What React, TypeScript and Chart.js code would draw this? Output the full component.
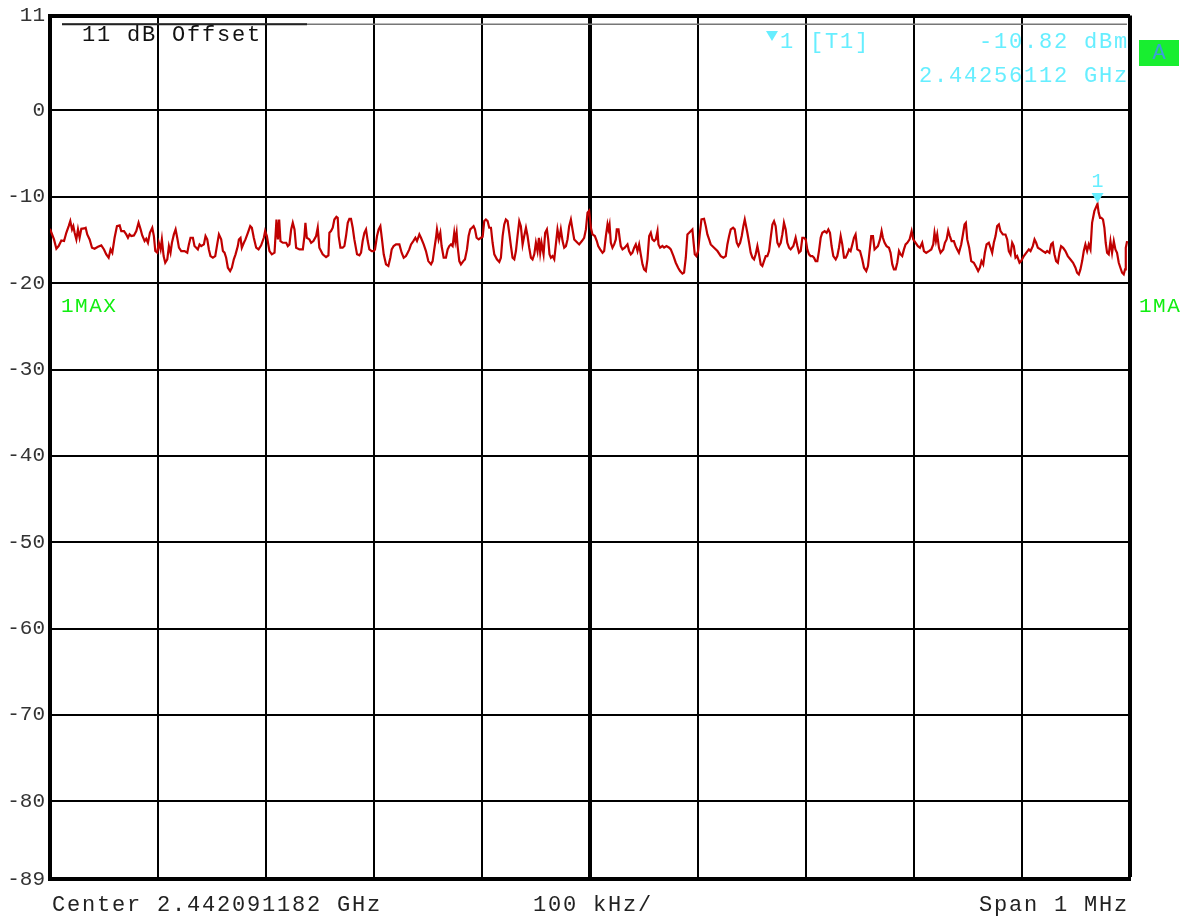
import React, { useEffect, useRef } from "react";
import { Chart, registerables } from "chart.js";

Chart.register(...registerables);

// Analyzer settings (frequency axis is kHz offset from the start of the span)
const centerLabel = "Center 2.442091182 GHz";
const divisionLabel = "100 kHz/";
const spanLabel = "Span 1 MHz";
const offsetLabel = "11 dB Offset";
const spanKHz = 1000;
const divisionKHz = 100;

// Level axis
const levelMax = 11;
const levelMin = -89;
const levelTicks = [11, 0, -10, -20, -30, -40, -50, -60, -70, -80, -89];
const displayLineDbm = 10;

// Marker 1
const markerFreqKHz = 969.938;
const markerLevelDbm = -10.82;
const markerLevelText = "-10.82 dBm";
const markerFreqText = "2.44256112 GHz";

// Trace 1 (max hold), [kHz offset, dBm]
const traceQ1: [number, number][] = [
  [0, -13.7], [3.7, -14.93], [5.9, -16.01], [8.0, -15.7], [10.5, -15.05], [13.0, -15.12], [15.1, -14.16], [17.3, -13.39],
  [18.8, -12.81], [20.4, -13.77], [21.6, -13.39], [22.8, -14.16], [24.4, -14.93], [25.9, -13.77], [27.4, -14.74], [29.0, -13.7],
  [31.5, -13.66], [33.0, -13.58], [34.5, -14.35], [36.7, -14.93], [38.9, -15.89], [41.3, -16.01], [44.4, -15.78], [47.5, -15.62],
  [50.0, -16.09], [52.1, -16.66], [54.3, -17.05], [56.1, -16.09], [57.7, -16.47], [59.8, -14.74], [62.0, -13.39], [64.5, -13.31],
  [66.0, -13.97], [68.5, -13.97], [70.6, -14.35], [72.2, -14.74], [73.7, -14.35], [75.3, -14.54], [77.7, -14.47], [79.9, -13.97],
  [82.0, -13.0], [83.9, -13.77], [85.4, -14.47], [87.6, -15.12], [89.1, -14.85], [90.7, -15.32], [92.5, -14.16], [94.7, -13.58],
  [96.2, -14.54], [97.5, -16.28], [99.3, -16.47], [100.8, -15.32], [102.4, -16.09], [103.6, -14.93], [105.2, -16.86], [106.7, -17.63],
  [108.6, -17.24], [110.1, -15.7], [111.6, -16.47], [112.9, -15.32], [114.7, -14.35], [116.3, -13.77], [117.8, -14.74], [119.4, -15.89],
  [121.5, -16.28], [124.6, -16.28], [127.1, -16.47], [128.6, -15.51], [130.1, -14.74], [132.3, -14.74], [133.8, -15.7], [135.4, -15.89],
  [136.9, -16.09], [138.5, -15.51], [140.0, -15.7], [142.5, -15.51], [144.0, -14.54], [145.6, -14.93], [147.1, -16.09], [148.6, -16.86],
  [150.8, -17.05], [153.0, -16.86], [154.8, -15.51], [156.4, -14.35], [158.5, -14.93], [160.1, -16.28], [161.6, -16.47], [163.1, -17.05],
  [164.7, -18.21], [166.8, -18.59], [168.4, -18.21], [170.2, -17.24], [171.8, -16.66], [173.9, -15.7], [174.9, -14.93], [176.4, -14.74],
  [177.6, -15.89], [179.5, -15.32], [181.0, -14.93], [183.2, -14.16], [185.4, -13.39], [186.9, -13.58], [188.7, -14.74], [190.9, -15.89],
  [193.1, -16.09], [195.5, -15.62], [198.0, -14.74], [199.2, -13.97], [200.8, -14.54], [203.2, -16.28], [205.4, -16.66], [207.9, -16.47],
  [209.7, -12.62], [211.0, -14.93], [212.2, -12.62], [213.4, -15.12], [215.6, -15.32], [218.7, -15.32], [220.2, -15.7], [221.7, -15.51],
  [223.3, -13.77], [224.8, -13.0], [226.4, -13.77], [227.9, -15.89], [231.0, -16.09], [234.1, -16.09], [235.6, -14.54], [236.5, -13.0],
  [237.8, -14.74], [240.2, -14.93], [241.8, -15.32], [243.9, -15.12], [246.4, -14.54],
];

const traceQ2: [number, number][] = [
  [247.9, -13.58], [249.4, -15.89], [252.5, -16.66], [255.6, -16.97], [257.8, -16.78], [258.7, -14.16], [260.2, -13.97], [261.8, -13.58],
  [263.3, -12.62], [265.2, -12.31], [266.4, -12.42], [267.3, -14.54], [268.9, -15.89], [271.0, -15.89], [272.6, -15.7], [274.1, -14.54],
  [275.7, -13.0], [277.2, -12.54], [278.7, -12.54], [280.3, -13.58], [281.8, -14.93], [284.3, -16.66], [286.5, -16.78], [288.0, -16.47],
  [289.5, -15.12], [291.1, -14.16], [292.6, -13.77], [294.2, -15.12], [295.7, -16.09], [297.9, -16.28], [299.7, -16.28], [300.9, -16.09],
  [302.8, -14.54], [304.3, -13.77], [305.9, -13.39], [307.4, -14.93], [309.0, -16.66], [311.1, -17.82], [313.3, -18.01], [315.1, -17.05],
  [316.4, -16.09], [318.2, -15.7], [320.4, -15.51], [323.5, -15.51], [325.6, -16.47], [327.5, -17.05], [329.6, -16.86], [331.2, -16.47],
  [332.7, -16.09], [334.3, -15.51], [336.4, -15.12], [338.3, -14.74], [339.8, -15.12], [342.0, -14.35], [343.5, -14.74], [346.0, -15.51],
  [348.1, -16.28], [350.3, -17.44], [352.8, -17.82], [354.3, -17.44], [355.8, -16.09], [357.4, -14.74], [358.3, -13.77], [359.8, -14.93],
  [361.4, -14.16], [362.6, -15.7], [364.5, -17.05], [366.6, -17.05], [368.2, -16.09], [369.7, -15.7], [371.3, -15.51], [372.8, -15.7],
  [374.3, -14.16], [375.3, -15.12], [376.5, -14.16], [377.4, -15.7], [379.0, -17.44], [380.5, -17.82], [382.7, -17.44], [384.2, -17.24],
  [386.1, -16.09], [387.6, -14.54], [389.1, -13.77], [390.7, -13.58], [392.2, -13.39], [393.5, -13.77], [395.0, -14.74], [396.9, -14.93],
  [399.0, -14.74], [400.6, -14.62], [402.1, -12.81], [403.6, -12.62], [405.2, -12.81], [406.7, -13.58], [408.3, -13.58], [409.8, -15.32],
  [411.4, -16.66], [413.8, -17.24], [416.0, -17.55], [417.5, -17.05], [419.1, -14.54], [420.6, -13.2], [422.1, -12.62], [423.7, -12.81],
  [425.2, -14.16], [426.8, -15.7], [428.3, -17.05], [429.9, -17.24], [431.4, -16.28], [432.9, -14.54], [434.5, -12.81], [436.0, -13.39],
  [437.6, -15.51], [439.1, -14.54], [440.7, -13.58], [442.2, -14.54], [443.7, -15.89], [445.3, -17.05], [446.8, -17.24], [448.4, -16.66],
  [449.9, -15.32], [451.4, -16.28], [452.7, -14.74], [453.9, -16.47], [455.1, -15.32], [457.0, -16.66], [458.5, -14.16], [460.1, -13.77],
  [461.3, -14.93], [462.5, -16.66], [463.8, -17.05], [465.3, -16.86], [466.9, -17.24], [468.4, -15.51], [469.9, -13.77], [471.5, -14.93],
  [473.0, -13.77], [474.6, -15.12], [476.1, -15.89], [477.7, -15.7], [479.2, -14.93], [480.7, -13.39], [482.3, -12.62], [483.8, -13.77],
  [485.4, -14.93], [488.4, -15.32], [490.0, -15.51], [492.5, -15.12], [494.6, -14.74], [496.2, -13.77],
];

const traceQ3: [number, number][] = [
  [497.7, -11.85], [499.2, -11.62], [500.8, -13.58], [502.3, -14.35], [504.5, -14.54], [506.3, -15.12], [507.6, -15.7], [509.4, -16.09],
  [511.6, -16.47], [513.1, -16.28], [514.7, -14.54], [516.2, -13.2], [517.1, -13.77], [518.1, -13.2], [519.3, -15.32], [520.8, -15.89],
  [522.4, -15.51], [523.9, -14.93], [524.8, -13.77], [526.4, -13.77], [527.6, -14.93], [528.5, -15.7], [530.1, -16.09], [532.2, -15.89],
  [534.7, -15.51], [536.2, -16.28], [537.8, -16.66], [539.3, -16.47], [540.9, -15.89], [542.4, -15.51], [544.0, -16.28], [545.5, -15.51],
  [547.0, -16.66], [548.6, -17.82], [550.1, -18.4], [551.7, -18.59], [553.2, -17.24], [554.8, -14.54], [556.3, -14.16], [557.8, -14.93],
  [559.4, -15.12], [560.9, -14.93], [562.5, -13.97], [563.4, -15.51], [564.9, -15.89], [567.1, -15.7], [568.6, -15.89], [570.8, -15.7],
  [573.3, -15.89], [574.8, -16.09], [577.3, -16.86], [579.4, -17.63], [581.6, -18.21], [583.4, -18.59], [585.6, -18.9], [587.1, -18.78],
  [588.7, -17.05], [590.2, -14.35], [591.8, -14.16], [594.8, -13.77], [595.8, -15.12], [597.0, -16.66], [598.5, -16.86], [600.1, -16.28],
  [601.6, -14.35], [603.2, -12.62], [605.6, -12.54], [607.2, -13.39], [608.7, -14.35], [610.3, -14.93], [611.8, -15.51], [614.9, -15.89],
  [618.0, -16.28], [621.1, -16.86], [623.5, -17.05], [625.7, -16.86], [627.2, -15.51], [628.8, -14.54], [630.3, -13.77], [632.5, -13.58],
  [634.0, -13.77], [635.9, -15.32], [637.4, -15.7], [639.0, -15.32], [640.5, -14.54], [642.0, -13.39], [643.3, -12.62], [644.5, -13.39],
  [645.7, -14.16], [647.3, -15.32], [648.8, -16.47], [650.4, -17.05], [651.9, -17.24], [653.4, -16.66], [655.0, -15.7], [656.5, -16.66],
  [658.1, -17.82], [659.6, -18.01], [661.1, -17.44], [662.7, -16.86], [664.2, -16.86], [665.8, -16.28], [667.3, -14.74], [668.9, -13.2],
  [670.4, -12.81], [671.9, -13.39], [673.5, -15.32], [675.0, -15.7], [676.6, -15.32], [678.1, -14.35], [679.6, -13.0], [681.2, -13.77],
  [682.7, -15.32], [684.3, -15.89], [685.8, -16.09], [688.3, -15.7], [690.4, -14.74], [692.0, -15.7], [693.5, -16.47], [695.1, -16.28],
  [696.6, -14.74], [698.1, -14.74], [699.7, -14.93], [701.2, -16.09], [702.8, -16.66], [704.3, -16.86], [705.9, -16.86], [707.4, -17.05],
  [708.9, -17.44], [710.5, -17.44], [712.0, -16.28], [713.6, -14.74], [715.1, -14.16], [717.3, -13.97], [719.1, -14.16], [720.7, -13.77],
  [722.2, -14.16], [723.7, -15.7], [725.3, -16.86], [727.5, -17.24], [729.0, -16.86], [730.5, -15.89], [732.1, -14.54], [733.6, -15.51],
  [735.2, -17.05], [736.7, -17.05], [738.2, -16.66], [739.8, -16.09], [741.3, -16.28], [742.9, -15.51], [744.4, -14.74], [745.9, -14.35],
];

const traceQ4: [number, number][] = [
  [747.5, -16.09], [750.0, -16.28], [752.1, -17.25], [753.7, -18.21], [755.8, -18.6], [757.4, -18.02], [759.2, -15.9], [760.4, -14.55],
  [762.0, -14.55], [763.5, -16.09], [765.1, -15.9], [766.6, -15.71], [768.5, -14.93], [770.0, -13.97], [771.2, -14.74], [772.8, -15.32],
  [774.6, -15.71], [776.8, -15.9], [778.3, -16.48], [779.9, -17.83], [781.4, -18.4], [783.0, -18.4], [784.5, -17.63], [786.1, -16.28],
  [787.6, -16.67], [789.1, -16.86], [790.7, -16.09], [792.2, -15.51], [793.8, -15.32], [795.9, -14.93], [797.8, -13.97], [799.3, -14.93],
  [801.5, -15.32], [803.6, -15.71], [805.5, -15.9], [807.6, -15.32], [809.2, -16.28], [811.3, -16.48], [813.8, -16.28], [816.0, -16.09],
  [817.8, -15.51], [819.0, -14.16], [820.3, -15.13], [821.5, -14.36], [823.1, -15.9], [824.6, -16.48], [827.1, -16.09], [828.6, -15.32],
  [830.2, -14.93], [831.7, -13.89], [833.2, -14.55], [834.8, -15.13], [836.9, -15.13], [838.5, -15.71], [840.0, -16.09], [841.6, -16.48],
  [843.7, -15.51], [845.3, -14.36], [846.8, -13.2], [848.0, -13.01], [849.3, -14.93], [851.1, -15.9], [853.0, -17.44], [855.4, -17.63],
  [857.9, -18.21], [859.4, -18.6], [861.0, -18.21], [862.5, -17.44], [864.1, -17.83], [865.6, -16.48], [867.2, -15.51], [869.3, -15.32],
  [870.9, -15.9], [872.4, -16.48], [873.9, -15.32], [875.5, -14.55], [877.0, -13.39], [878.6, -13.2], [880.1, -13.97], [882.3, -14.36],
  [884.7, -14.36], [886.3, -14.93], [887.8, -16.28], [889.4, -16.67], [890.9, -15.32], [892.4, -15.71], [894.0, -17.05], [895.5, -16.86],
  [897.7, -17.63], [899.2, -17.44], [901.7, -16.86], [903.9, -16.48], [906.3, -16.09], [907.9, -16.28], [910.0, -15.71], [911.6, -14.93],
  [913.1, -15.32], [914.7, -15.9], [917.1, -16.09], [919.3, -16.28], [921.7, -16.48], [923.3, -16.28], [925.4, -16.48], [927.0, -15.51],
  [928.5, -15.32], [930.1, -16.67], [931.6, -17.44], [933.2, -17.63], [934.7, -16.48], [936.2, -15.71], [938.1, -15.9], [940.2, -16.28],
  [942.4, -16.86], [944.9, -17.25], [947.3, -17.63], [949.5, -18.21], [951.0, -18.79], [952.6, -18.98], [954.1, -18.4], [955.7, -17.44],
  [957.2, -16.28], [958.7, -15.51], [960.3, -16.28], [961.8, -15.51], [963.4, -16.09], [964.9, -13.01], [967.0, -11.66], [969.9, -10.82],
  [971.0, -11.85], [972.3, -12.43], [973.5, -12.43], [975.0, -12.62], [976.3, -13.59], [977.5, -15.32], [978.8, -16.48], [980.3, -16.67],
  [981.9, -15.13], [983.4, -16.48], [985.0, -15.13], [986.5, -16.09], [988.0, -16.48], [989.6, -17.63], [991.1, -18.21], [992.7, -18.79],
  [994.2, -18.98], [995.4, -18.4], [996.1, -15.9], [997.3, -15.13],
];

const TRACE_RED = "#c00000";
const MARKER_CYAN = "#66eeff";
const TRACE_GREEN = "#11ee11";
const FONT = "Liberation Mono, DejaVu Sans Mono, monospace";

function text(
  ctx: CanvasRenderingContext2D,
  s: string,
  x: number,
  y: number,
  color: string,
  align: CanvasTextAlign = "left",
  size = 22,
  spacing = 1.8
) {
  ctx.save();
  ctx.font = `${size}px ${FONT}`;
  (ctx as any).letterSpacing = `${spacing}px`;
  ctx.fillStyle = color;
  ctx.textAlign = align;
  ctx.textBaseline = "middle";
  ctx.fillText(s, x, y);
  ctx.restore();
}

const analyzerOverlay = {
  id: "analyzerOverlay",
  afterDraw(chart: any) {
    const { ctx, chartArea: a, scales } = chart;
    const xs = scales.x;
    const ys = scales.y;
    ctx.save();

    // display line just below the top edge
    const ly = ys.getPixelForValue(displayLineDbm);
    ctx.strokeStyle = "#777";
    ctx.lineWidth = 1.5;
    ctx.beginPath();
    ctx.moveTo(a.left + 12, ly);
    ctx.lineTo(a.right - 3, ly);
    ctx.stroke();
    ctx.strokeStyle = "#222";
    ctx.lineWidth = 2;
    ctx.beginPath();
    ctx.moveTo(a.left + 12, ly);
    ctx.lineTo(a.left + 257, ly);
    ctx.stroke();

    text(ctx, offsetLabel, a.left + 32, 35, "#111");

    // marker readout
    ctx.fillStyle = MARKER_CYAN;
    ctx.beginPath();
    ctx.moveTo(766, 31);
    ctx.lineTo(778, 31);
    ctx.lineTo(772, 41);
    ctx.closePath();
    ctx.fill();
    text(ctx, "1", 780, 42, MARKER_CYAN);
    text(ctx, "[T1]", 810, 42, MARKER_CYAN);
    text(ctx, markerLevelText, a.right - 1, 42, MARKER_CYAN, "right");
    text(ctx, markerFreqText, a.right - 1, 76, MARKER_CYAN, "right");

    // trace indicator box
    ctx.fillStyle = "#18ee30";
    ctx.fillRect(a.right + 9, 40, 40, 26);
    text(ctx, "A", a.right + 29, 53, "#3b9fd8", "center", 22, 0);

    // trace mode labels
    text(ctx, "1MAX", a.left + 11, 306, TRACE_GREEN, "left", 21, 1.5);
    text(ctx, "1MA", a.right + 9, 306, TRACE_GREEN, "left", 21, 1.5);

    // marker on the trace
    const mx = xs.getPixelForValue(markerFreqKHz);
    const my = ys.getPixelForValue(markerLevelDbm);
    ctx.fillStyle = MARKER_CYAN;
    ctx.beginPath();
    ctx.moveTo(mx - 6, my - 11);
    ctx.lineTo(mx + 6, my - 11);
    ctx.lineTo(mx, my - 1);
    ctx.closePath();
    ctx.fill();
    text(ctx, "1", mx, my - 22, MARKER_CYAN, "center", 20, 0);

    // frequency annotations
    text(ctx, centerLabel, a.left + 2, 905, "#222");
    text(ctx, divisionLabel, (a.left + a.right) / 2 - 57, 905, "#222");
    text(ctx, spanLabel, a.right - 1, 905, "#222", "right");

    ctx.restore();
  },
};

export default function App() {
  const ref = useRef<HTMLCanvasElement>(null);

  useEffect(() => {
    if (!ref.current) return;
    const points = [...traceQ1, ...traceQ2, ...traceQ3, ...traceQ4].map(([x, y]) => ({ x, y }));
    const chart = new Chart(ref.current, {
      type: "line",
      data: {
        datasets: [
          {
            label: "Trace 1",
            data: points,
            borderColor: TRACE_RED,
            borderWidth: 2.2,
            pointRadius: 0,
            tension: 0,
          },
        ],
      },
      options: {
        animation: false,
        responsive: false,
        maintainAspectRatio: false,
        layout: { padding: { top: 15, right: 62, bottom: 42, left: 0 } },
        plugins: { legend: { display: false }, tooltip: { enabled: false } },
        scales: {
          x: {
            type: "linear",
            min: 0,
            max: spanKHz,
            ticks: { display: false, stepSize: divisionKHz },
            grid: {
              color: "#000",
              drawTicks: false,
              lineWidth: (c: any) => (c.tick && (c.tick.value === spanKHz / 2 || c.tick.value === spanKHz) ? 4 : 2),
            },
            border: { display: true, color: "#000", width: 4 },
            afterFit: (s: any) => {
              s.height = 0;
            },
          },
          y: {
            type: "linear",
            min: levelMin,
            max: levelMax,
            afterBuildTicks: (s: any) => {
              s.ticks = levelTicks.map((value) => ({ value }));
            },
            ticks: {
              autoSkip: false,
              color: "#333",
              padding: 5,
              font: { family: FONT, size: 21, lineHeight: 1 },
            },
            grid: {
              color: "#000",
              drawTicks: false,
              lineWidth: (c: any) => (c.tick && c.tick.value === levelMax ? 4 : 2),
            },
            border: { display: true, color: "#000", width: 4 },
            afterFit: (s: any) => {
              s.width = 50;
            },
          },
        },
      },
      plugins: [analyzerOverlay],
    });
    return () => chart.destroy();
  }, []);

  return (
    <div style={{ position: "absolute", left: 0, top: 0, width: 1192, height: 921, background: "#fff" }}>
      <canvas ref={ref} width={1192} height={921} style={{ display: "block" }} />
    </div>
  );
}
